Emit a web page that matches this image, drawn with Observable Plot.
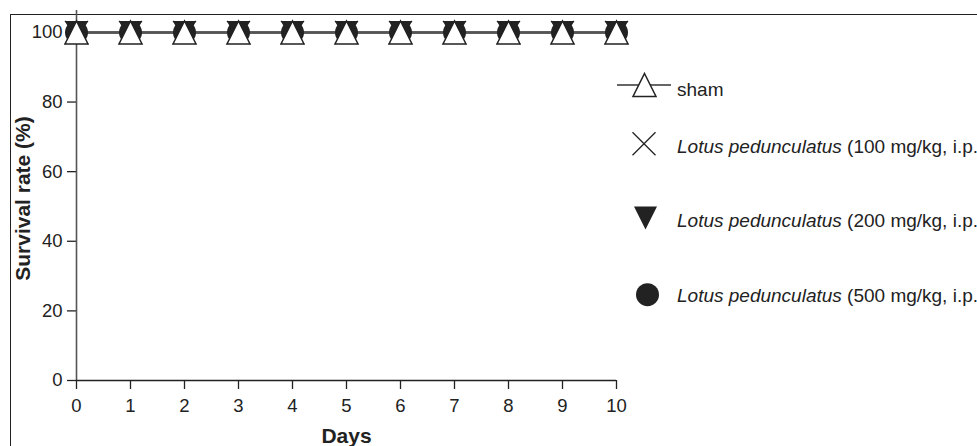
<!DOCTYPE html>
<html><head><meta charset="utf-8">
<script src="https://cdn.jsdelivr.net/npm/d3@7"></script>
<script src="https://cdn.jsdelivr.net/npm/@observablehq/plot@0.6"></script>
<style>
html,body{margin:0;padding:0;background:#fff;}
#wrap{position:relative;width:977px;height:446px;overflow:hidden;font-family:"Liberation Sans",Arial,sans-serif;}
#frame{position:absolute;left:10px;top:13.5px;right:-5px;bottom:-5px;border-top:1.4px solid #222;border-left:1.4px solid #222;}
#chart{position:absolute;left:0;top:0;}
#legend{position:absolute;left:0;top:0;}
</style></head><body>
<div id="wrap"><div id="frame"></div><div id="chart"></div><svg id="legend" width="977" height="446"></svg></div>
<script>
// ---- data ----
const days = [0, 1, 2, 3, 4, 5, 6, 7, 8, 9, 10];
const series = ["sham", "Lotus pedunculatus (100 mg/kg, i.p.)", "Lotus pedunculatus (200 mg/kg, i.p.)", "Lotus pedunculatus (500 mg/kg, i.p.)"];
const shamValues = [100, 100, 100, 100, 100, 100, 100, 100, 100, 100, 100];
const lp100Values = [100, 100, 100, 100, 100, 100, 100, 100, 100, 100, 100];
const lp200Values = [100, 100, 100, 100, 100, 100, 100, 100, 100, 100, 100];
const lp500Values = [100, 100, 100, 100, 100, 100, 100, 100, 100, 100, 100];
const xTicks = [0, 1, 2, 3, 4, 5, 6, 7, 8, 9, 10];
const yTicks = [0, 20, 40, 60, 80, 100];
const legendItalic = ["", "Lotus pedunculatus", "Lotus pedunculatus", "Lotus pedunculatus"];
const legendRest = ["sham", " (100 mg/kg, i.p.)", " (200 mg/kg, i.p.)", " (500 mg/kg, i.p.)"];

const allValues = [shamValues, lp100Values, lp200Values, lp500Values];
const rows = [];
series.forEach((s, i) => days.forEach((d, j) => rows.push({series: s, idx: i, day: d, value: allValues[i][j]})));
const bySeries = i => rows.filter(r => r.idx === i);

// custom symbols (bbox-centred)
const triUp = {draw(ctx, size){ const r = Math.sqrt(size/Math.PI); ctx.moveTo(0,-r); ctx.lineTo(r,r); ctx.lineTo(-r,r); ctx.closePath(); }};
const triDown = {draw(ctx, size){ const r = Math.sqrt(size/Math.PI); ctx.moveTo(0,r); ctx.lineTo(r,-r); ctx.lineTo(-r,-r); ctx.closePath(); }};
const timesSym = {draw(ctx, size){ const r = Math.sqrt(size/Math.PI); ctx.moveTo(-r,-r); ctx.lineTo(r,r); ctx.moveTo(-r,r); ctx.lineTo(r,-r); }};

const font = '"Liberation Sans", Arial, sans-serif';
const yTop = 106.3;

const chart = Plot.plot({
  width: 977, height: 446,
  marginLeft: 76, marginRight: 361, marginTop: 10, marginBottom: 66,
  style: {fontFamily: font, fontSize: "18.5px", color: "#222", background: "transparent", overflow: "visible"},
  x: {domain: [0, 10]},
  y: {domain: [0, yTop]},
  marks: [
    Plot.axisX({ticks: xTicks, tickSize: 9, tickPadding: 9, label: null, fontSize: 18.5, strokeWidth: 1.3}),
    Plot.axisY({ticks: yTicks, tickSize: 9, tickPadding: 5, label: null, fontSize: 18.5, strokeWidth: 1.3}),
    Plot.ruleX([0], {y1: 0, y2: yTop, stroke: "#555", strokeWidth: 1.6}),
    Plot.ruleY([0], {x1: 0, x2: 10, stroke: "#222", strokeWidth: 1.4}),
    Plot.line(rows, {x: "day", y: "value", z: "series", stroke: "#555", strokeWidth: 2}),
    Plot.dot(bySeries(3), {x: "day", y: "value", r: 11.5, symbol: "circle", fill: "#222"}),
    Plot.dot(bySeries(1), {x: "day", y: "value", r: 11.5, symbol: timesSym, fill: "none", stroke: "#222", strokeWidth: 1.3}),
    Plot.dot(bySeries(2), {x: "day", y: "value", r: 11.5, symbol: triDown, fill: "#222"}),
    Plot.dot(bySeries(0), {x: "day", y: "value", r: 11.5, symbol: triUp, fill: "#fff", stroke: "#222", strokeWidth: 1.5}),
    Plot.text(["Survival rate (%)"], {frameAnchor: "left", textAnchor: "middle", rotate: -90, dx: -53.5, dy: 3, fontWeight: "bold", fontSize: 21, fill: "#222"}),
    Plot.text(["Days"], {frameAnchor: "bottom", textAnchor: "middle", dy: 62, fontWeight: "bold", fontSize: 21, fill: "#222"})
  ]
});
document.getElementById("chart").appendChild(chart);

// ---- legend ----
const lg = d3.select("#legend").style("font-family", font);
const symX = [644.5, 644, 645.5, 647.5];
const symY = [85, 143.7, 218, 294.7];
const baseY = [96, 152.5, 226.5, 301.5];
const textX = 677;
const size = Math.PI * 11.5 * 11.5;
lg.append("line").attr("x1", 617).attr("x2", 671).attr("y1", symY[0]).attr("y2", symY[0]).attr("stroke", "#333").attr("stroke-width", 1.5);
const syms = [triUp, timesSym, triDown, d3.symbolCircle];
series.forEach((s, i) => {
  const p = lg.append("path")
    .attr("transform", `translate(${symX[i]},${symY[i]})`)
    .attr("d", d3.symbol(syms[i], size)());
  if (i === 0) p.attr("fill", "#fff").attr("stroke", "#222").attr("stroke-width", 1.5);
  else if (i === 1) p.attr("fill", "none").attr("stroke", "#222").attr("stroke-width", 1.3);
  else p.attr("fill", "#222");
  const t = lg.append("text").attr("x", textX).attr("y", baseY[i]).attr("font-size", 19).attr("fill", "#222");
  if (legendItalic[i]) t.append("tspan").attr("font-style", "italic").text(legendItalic[i]);
  t.append("tspan").text(legendRest[i]);
});
</script>
</body></html>
